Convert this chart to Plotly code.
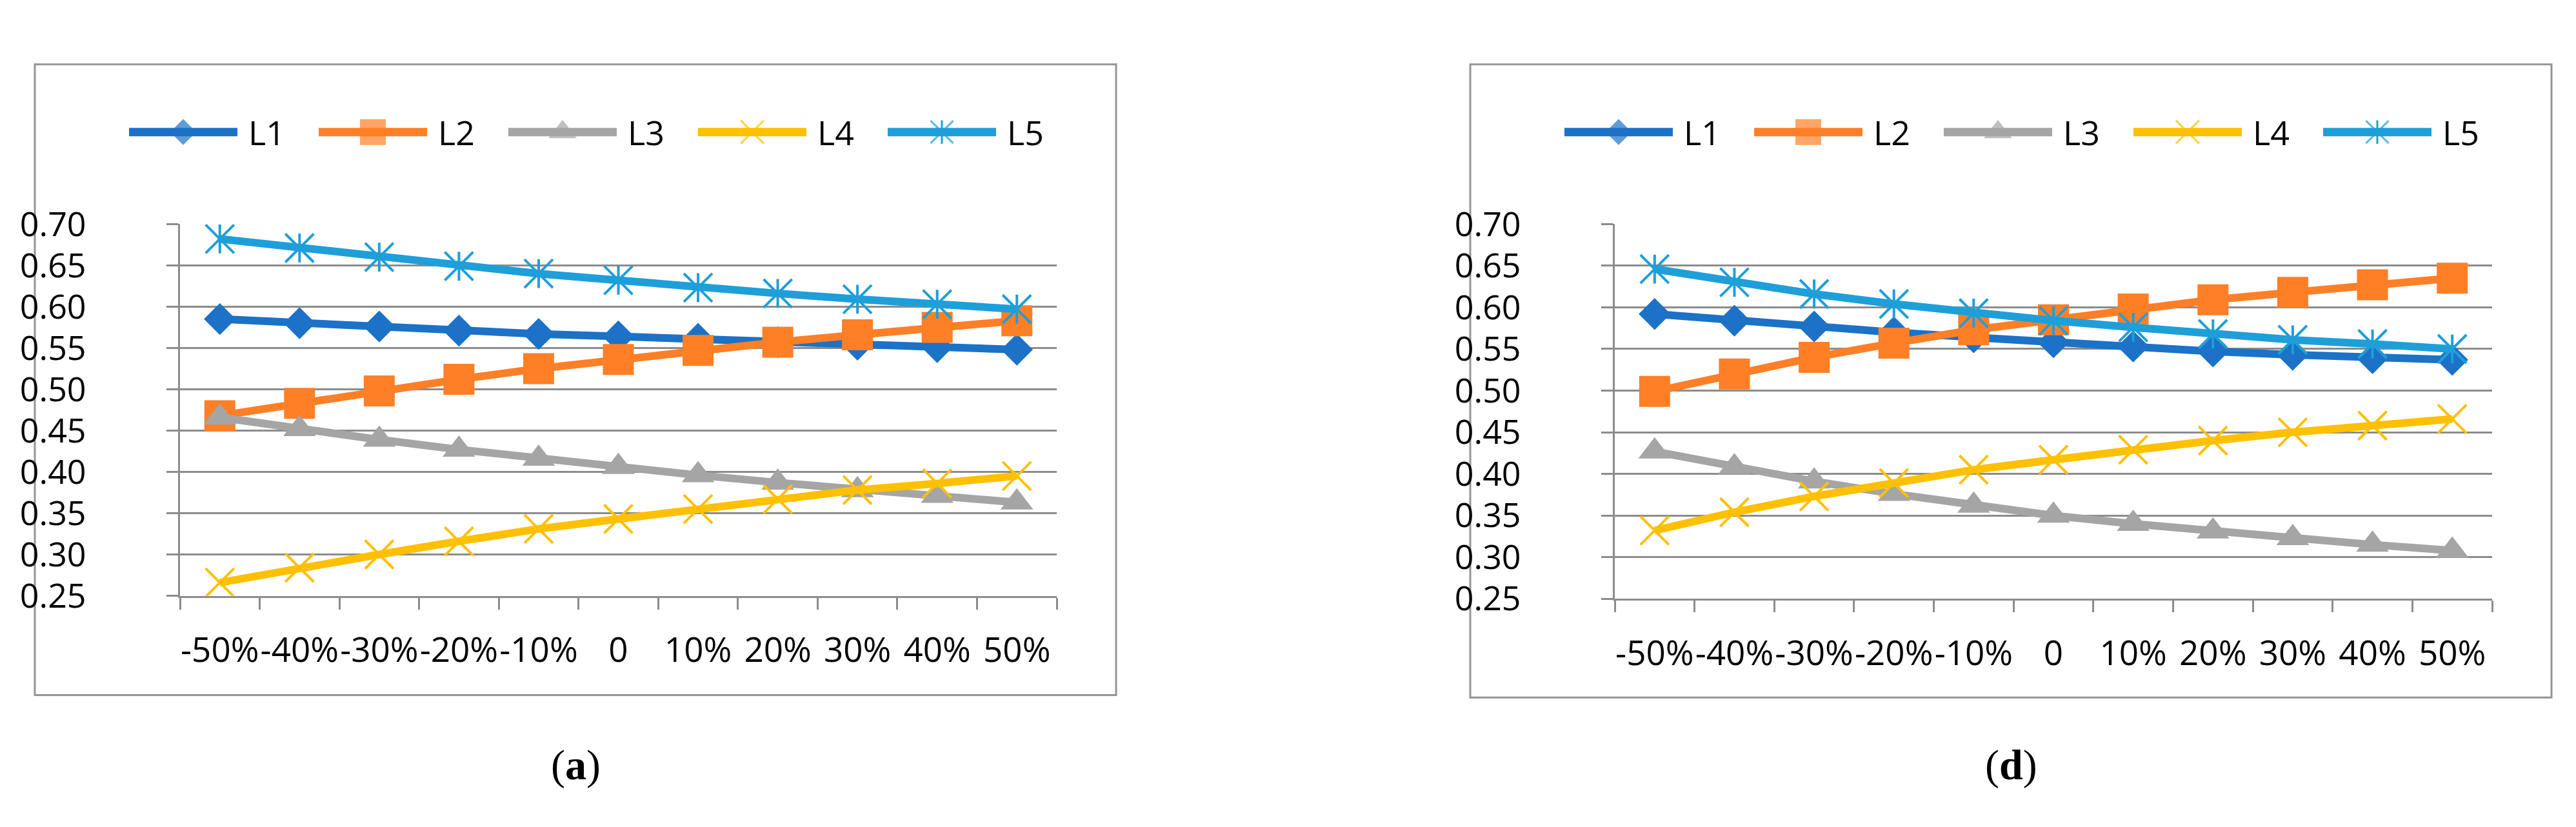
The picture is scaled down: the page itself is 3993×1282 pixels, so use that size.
import plotly.graph_objects as go

# ---------------- data ----------------
categories = ["-50%", "-40%", "-30%", "-20%", "-10%", "0", "10%", "20%", "30%", "40%", "50%"]
series_names = ["L1", "L2", "L3", "L4", "L5"]

a_L1 = [0.585, 0.580, 0.576, 0.571, 0.567, 0.564, 0.561, 0.557, 0.554, 0.551, 0.548]
a_L2 = [0.468, 0.483, 0.498, 0.512, 0.525, 0.536, 0.547, 0.557, 0.566, 0.575, 0.583]
a_L3 = [0.466, 0.452, 0.439, 0.427, 0.416, 0.406, 0.396, 0.387, 0.378, 0.371, 0.363]
a_L4 = [0.266, 0.284, 0.300, 0.316, 0.331, 0.343, 0.355, 0.367, 0.378, 0.386, 0.395]
a_L5 = [0.682, 0.671, 0.660, 0.649, 0.640, 0.632, 0.623, 0.616, 0.609, 0.603, 0.597]

d_L1 = [0.592, 0.584, 0.577, 0.570, 0.564, 0.558, 0.553, 0.547, 0.543, 0.539, 0.537]
d_L2 = [0.499, 0.520, 0.540, 0.557, 0.573, 0.585, 0.598, 0.609, 0.618, 0.627, 0.635]
d_L3 = [0.427, 0.408, 0.391, 0.376, 0.362, 0.350, 0.340, 0.331, 0.323, 0.315, 0.308]
d_L4 = [0.332, 0.354, 0.373, 0.389, 0.405, 0.417, 0.429, 0.440, 0.450, 0.458, 0.466]
d_L5 = [0.646, 0.630, 0.616, 0.604, 0.593, 0.584, 0.576, 0.568, 0.561, 0.556, 0.550]

panel_labels = ["a", "d"]
y_ticks = [0.25, 0.30, 0.35, 0.40, 0.45, 0.50, 0.55, 0.60, 0.65, 0.70]

# ---------------- styles ----------------
W, H = 3993, 1282
colors = ["#1B72C7", "#FF7F27", "#A5A5A5", "#FFC000", "#1E9FD9"]
GRID = "#8C8C8C"
FRAME = "#959595"
FONT = "Open Sans"
FS = 52
FSX = 53

marker_specs = [
    ("diamond", 38, 0),
    ("square", 48, 0),
    ("triangle-up", 44, 0),
    ("x-thin-open", 44, 4),
    ("x-thin-open", 44, 4),
]
legend_marker_sizes = [31, 40, 38, 36, 35]

panels = [
    dict(data=[a_L1, a_L2, a_L3, a_L4, a_L5], px=(271, 1630), py=(319, 929),
         frame=(46, 57, 1722, 1092), label=panel_labels[0]),
    dict(data=[d_L1, d_L2, d_L3, d_L4, d_L5], px=(2495, 3855), py=(319, 934),
         frame=(2271, 57, 3947, 1096), label=panel_labels[1]),
]

fig = go.Figure()
layout = dict(
    width=W, height=H, autosize=False,
    margin=dict(l=0, r=0, t=0, b=0),
    paper_bgcolor="white", plot_bgcolor="rgba(0,0,0,0)",
    showlegend=False,
    font=dict(family=FONT, size=FS, color="black"),
)
shapes = []
annotations = []

for i, p in enumerate(panels):
    xa = "x" if i == 0 else "x2"
    ya = "y" if i == 0 else "y2"
    for k, (vals, col, spec) in enumerate(zip(p["data"], colors, marker_specs)):
        sym, sz, lw = spec
        fig.add_trace(go.Scatter(
            x=categories, y=vals, xaxis=xa, yaxis=ya, mode="lines+markers",
            name=series_names[k],
            line=dict(color=col, width=12),
            marker=dict(symbol=sym, size=sz, color=col,
                        line=dict(color=col, width=lw)),
        ))
        if k == 4:
            fig.add_trace(go.Scatter(
                x=categories, y=vals, xaxis=xa, yaxis=ya, mode="markers",
                name=series_names[k], showlegend=False,
                marker=dict(symbol="line-ns-open", size=32, color=col,
                            line=dict(color=col, width=4)),
            ))
    x0, x1 = p["px"]
    ytop, ybot = p["py"]
    suffix = "" if i == 0 else "2"
    layout["xaxis" + suffix] = dict(
        domain=[x0 / W, x1 / W], anchor=ya, type="category",
        range=[-0.5, len(categories) - 0.5],
        showgrid=False, zeroline=False,
        showline=True, linecolor=GRID, linewidth=3,
        ticks="outside", tickson="boundaries", ticklen=18, tickwidth=3, tickcolor=GRID,
        tickangle=0,
        tickfont=dict(family=FONT, size=FSX, color="black"),
        ticklabelstandoff=36, fixedrange=True,
    )
    layout["yaxis" + suffix] = dict(
        domain=[(H - ybot) / H, (H - ytop) / H], anchor=xa,
        range=[0.25, 0.70], tickvals=y_ticks, tickformat=".2f",
        showgrid=True, gridcolor=GRID, gridwidth=3, zeroline=False,
        showline=True, linecolor=GRID, linewidth=3,
        ticks="outside", ticklen=18, tickwidth=3, tickcolor=GRID,
        tickfont=dict(family=FONT, size=FS, color="black"),
        ticklabelstandoff=114, fixedrange=True,
    )
    fx0, fy0, fx1, fy1 = p["frame"]
    shapes.append(dict(type="rect", xref="paper", yref="paper",
                       x0=fx0 / W, x1=fx1 / W, y0=1 - fy1 / H, y1=1 - fy0 / H,
                       line=dict(color=FRAME, width=3), fillcolor="rgba(0,0,0,0)", layer="below"))
    annotations.append(dict(xref="paper", yref="paper", x=(fx0 + fx1) / 2 / W, y=1 - 1207 / H,
                            text="(<b>" + p["label"] + "</b>)", showarrow=False,
                            xanchor="center", yanchor="middle",
                            font=dict(family="Liberation Serif", size=66, color="black")))

# ---------------- legend drawn on a pixel-space helper axis (legend band only) ----------------
LEG_Y = 168
BAND = (110, 230)
layout["xaxis3"] = dict(domain=[0, 1], range=[0, W], visible=False, fixedrange=True, anchor="y3")
layout["yaxis3"] = dict(domain=[1 - BAND[1] / H, 1 - BAND[0] / H], range=[BAND[1], BAND[0]],
                        visible=False, fixedrange=True, anchor="x3")
for i, p in enumerate(panels):
    start = p["frame"][0] + 146
    for k, (col, spec) in enumerate(zip(colors, marker_specs)):
        sym, sz, lw = spec
        lx0 = start + k * 294
        lx1 = lx0 + 168
        fig.add_trace(go.Scatter(
            x=[lx0, (lx0 + lx1) / 2, lx1], y=[LEG_Y] * 3, xaxis="x3", yaxis="y3",
            mode="lines+markers", hoverinfo="skip", showlegend=False,
            line=dict(color=col, width=13),
            marker=dict(symbol=sym, size=[0, legend_marker_sizes[k], 0], color=col,
                        line=dict(color=col, width=lw * 0.8)),
        ))
        if k == 4:
            fig.add_trace(go.Scatter(
                x=[(lx0 + lx1) / 2], y=[LEG_Y], xaxis="x3", yaxis="y3",
                mode="markers", hoverinfo="skip", showlegend=False,
                marker=dict(symbol="line-ns-open", size=26, color=col,
                            line=dict(color=col, width=3)),
            ))
        annotations.append(dict(xref="x3", yref="y3", x=lx1 + 15, y=LEG_Y,
                                text=series_names[k], showarrow=False,
                                xanchor="left", yanchor="middle",
                                font=dict(family=FONT, size=FS, color="black")))

layout["shapes"] = shapes
layout["annotations"] = annotations
fig.update_layout(**layout)
fig.write_html("out.html")
